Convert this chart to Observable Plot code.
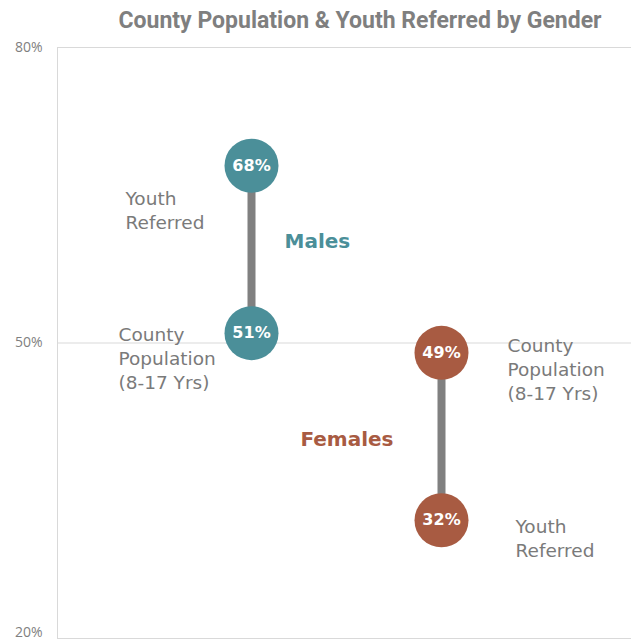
<!DOCTYPE html>
<html><head><meta charset="utf-8">
<script src="https://cdn.jsdelivr.net/npm/d3@7"></script>
<script src="https://cdn.jsdelivr.net/npm/@observablehq/plot@0.6"></script>
<style>
body{margin:0;background:#fff;width:631px;overflow:hidden;}
#title{height:40px;box-sizing:border-box;padding-left:89px;text-align:center;font-family:"Liberation Sans Narrow","Roboto",sans-serif;font-weight:bold;font-size:23px;line-height:42px;color:#7f7f7f;}
</style></head><body>
<div id="title">County Population &amp; Youth Referred by Gender</div>
<div id="chart"></div>
<script>
const genders = ["Males", "Females"];
const countyPopulation = [51, 49];
const youthReferred = [68, 32];
const genderColors = ["#4b8f99", "#a85b42"];
const yTicks = [20, 50, 80];
const countyLabel = "County\nPopulation\n(8-17 Yrs)";
const youthLabel = "Youth\nReferred";

const rows = genders.map((g, i) => ({
  gender: g,
  county: countyPopulation[i],
  youth: youthReferred[i],
  mid: (countyPopulation[i] + youthReferred[i]) / 2,
  color: genderColors[i]
}));
const males = rows.filter(d => d.gender === "Males");
const females = rows.filter(d => d.gender === "Females");
const labelFont = "DejaVu Sans";
const gray = "#7a7a7a";
const lblSize = 18.5;
const lblLH = 1.3;

const axisOpts = {tickSize: 0, tickPadding: 15, tickFormat: d => d + "%", fontSize: 14, color: "#7f7f7f", label: null, fontFamily: "Open Sans"};

const chart = Plot.plot({
  width: 631,
  height: 602,
  marginTop: 7,
  marginBottom: 4,
  marginLeft: 57,
  marginRight: 0,
  style: {fontFamily: labelFont, background: "transparent", overflow: "visible"},
  x: {type: "point", domain: genders, padding: 1, insetLeft: 3, axis: null},
  y: {domain: [20, 80]},
  marks: [
    Plot.ruleY(yTicks, {stroke: "#d9d9d9", strokeWidth: 1}),
    Plot.frame({anchor: "left", stroke: "#d9d9d9"}),
    Plot.axisY(yTicks.filter(t => t > 20), axisOpts),
    Plot.axisY(yTicks.filter(t => t === 20), {...axisOpts, dy: -6}),
    Plot.ruleX(rows, {x: "gender", y1: "county", y2: "youth", stroke: "#808080", strokeWidth: 8}),
    Plot.dot(rows, {x: "gender", y: "county", r: 27, fill: "color", stroke: null}),
    Plot.dot(rows, {x: "gender", y: "youth", r: 27, fill: "color", stroke: null}),
    Plot.text(rows, {x: "gender", y: "county", text: d => d.county + "%", fill: "white", fontWeight: "bold", fontSize: 16}),
    Plot.text(rows, {x: "gender", y: "youth", text: d => d.youth + "%", fill: "white", fontWeight: "bold", fontSize: 16}),
    // Males annotations (left side)
    Plot.text(males, {x: "gender", y: "youth", text: () => youthLabel, textAnchor: "start", dx: -126, dy: 44, fill: gray, fontSize: lblSize, lineHeight: lblLH}),
    Plot.text(males, {x: "gender", y: "county", text: () => countyLabel, textAnchor: "start", dx: -133, dy: 24, fill: gray, fontSize: lblSize, lineHeight: lblLH}),
    Plot.text(males, {x: "gender", y: "mid", text: "gender", textAnchor: "start", dx: 33, dy: -8, fill: "color", fontWeight: "bold", fontSize: 20}),
    // Females annotations (right side)
    Plot.text(females, {x: "gender", y: "county", text: () => countyLabel, textAnchor: "start", dx: 66, dy: 15, fill: gray, fontSize: lblSize, lineHeight: lblLH}),
    Plot.text(females, {x: "gender", y: "youth", text: () => youthLabel, textAnchor: "start", dx: 74, dy: 17, fill: gray, fontSize: lblSize, lineHeight: lblLH}),
    Plot.text(females, {x: "gender", y: "mid", text: "gender", textAnchor: "end", dx: -48, dy: 3, fill: "color", fontWeight: "bold", fontSize: 20})
  ]
});
document.getElementById("chart").appendChild(chart);
</script>
</body></html>
